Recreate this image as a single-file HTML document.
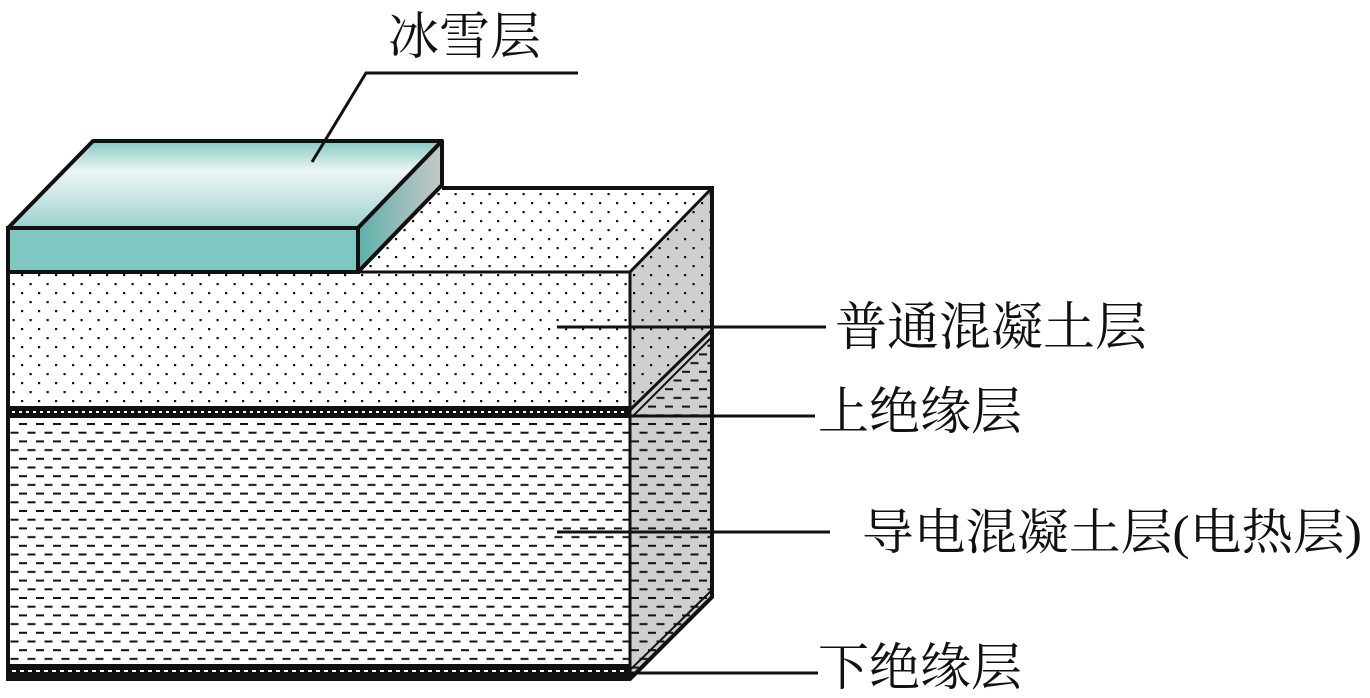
<!DOCTYPE html>
<html><head><meta charset="utf-8"><style>
html,body{margin:0;padding:0;background:#fff;width:1370px;height:698px;overflow:hidden}
svg text{font-family:"Liberation Serif","Noto Serif CJK SC",serif;fill:#111}
</style></head><body>
<svg width="1370" height="698" viewBox="0 0 1370 698" xmlns="http://www.w3.org/2000/svg">
<defs>
<pattern id="dots" width="17" height="18" patternUnits="userSpaceOnUse">
<rect x="4" y="4" width="2.2" height="2.2" fill="#111"/>
<rect x="12.5" y="13" width="2.2" height="2.2" fill="#111"/>
</pattern>
<pattern id="dash" width="17" height="17.4" patternUnits="userSpaceOnUse" y="420">
<rect x="2" y="3" width="8" height="2" fill="#111"/>
<rect x="10.5" y="11.7" width="8" height="2" fill="#111"/>
<rect x="-6.5" y="11.7" width="8" height="2" fill="#111"/>
</pattern>
<linearGradient id="top" x1="0" y1="0" x2="0" y2="1">
<stop offset="0" stop-color="#84c9c5"/><stop offset="0.35" stop-color="#eef6f5"/><stop offset="1" stop-color="#9cd2ce"/>
</linearGradient>
<linearGradient id="side" x1="0" y1="0" x2="1" y2="0">
<stop offset="0" stop-color="#5fb0aa"/><stop offset="1" stop-color="#c8c8c8"/>
</linearGradient>
</defs>
<polygon points="630,272 712,188 712,597 630,677" fill="#cfcfcf"/>
<polygon points="630,272 712,188 712,330 630,410" fill="url(#dots)"/>
<polygon points="630,420 712,336 712,597 630,677" fill="url(#dash)"/>
<line x1="630" y1="410" x2="712" y2="330" stroke="#111" stroke-width="3"/>
<line x1="633" y1="416" x2="712" y2="337" stroke="#111" stroke-width="2"/>
<line x1="630" y1="670" x2="712" y2="590" stroke="#111" stroke-width="2"/>
<polygon points="358,272 442,188 712,188 630,272" fill="#fff"/>
<polygon points="358,272 442,188 712,188 630,272" fill="url(#dots)"/>
<rect x="8" y="272" width="622" height="136" fill="url(#dots)"/>
<rect x="8" y="406" width="622" height="12" fill="#111"/>
<line x1="12" y1="412" x2="626" y2="412" stroke="#fff" stroke-width="2" stroke-dasharray="3,4"/>
<rect x="8" y="418" width="622" height="246" fill="url(#dash)"/>
<rect x="8" y="664" width="622" height="15" fill="#111"/>
<line x1="12" y1="671" x2="626" y2="671" stroke="#fff" stroke-width="2" stroke-dasharray="4,4"/>
<polyline points="8,272 8,679 630,679 712,597 712,188 442,188" fill="none" stroke="#111" stroke-width="4"/>
<line x1="630" y1="272" x2="630" y2="679" stroke="#111" stroke-width="3"/>
<line x1="358" y1="272" x2="630" y2="272" stroke="#111" stroke-width="3"/>
<line x1="630" y1="272" x2="712" y2="188" stroke="#111" stroke-width="3"/>
<polygon points="8,228 93,141 442,141 358,228" fill="url(#top)" stroke="#111" stroke-width="4" stroke-linejoin="round"/>
<polygon points="358,228 442,141 442,185 358,272" fill="url(#side)" stroke="#111" stroke-width="4" stroke-linejoin="round"/>
<rect x="8" y="228" width="350" height="44" fill="#80c6c2" stroke="#111" stroke-width="4"/>
<polyline points="312,162 366,73 578,73" fill="none" stroke="#111" stroke-width="3"/>
<line x1="557" y1="327" x2="826" y2="327" stroke="#111" stroke-width="3"/>
<line x1="630" y1="416" x2="815" y2="416" stroke="#111" stroke-width="3"/>
<line x1="557" y1="532" x2="830" y2="532" stroke="#111" stroke-width="3"/>
<line x1="630" y1="673" x2="818" y2="673" stroke="#111" stroke-width="3"/>
<text x="388" y="54" font-size="51">冰雪层</text>
<text x="835" y="345" font-size="52">普通混凝土层</text>
<text x="818" y="429" font-size="51">上绝缘层</text>
<text x="862" y="549" font-size="49" textLength="500" lengthAdjust="spacingAndGlyphs">导电混凝土层(电热层)</text>
<text x="818" y="685" font-size="51">下绝缘层</text>
</svg>
</body></html>
